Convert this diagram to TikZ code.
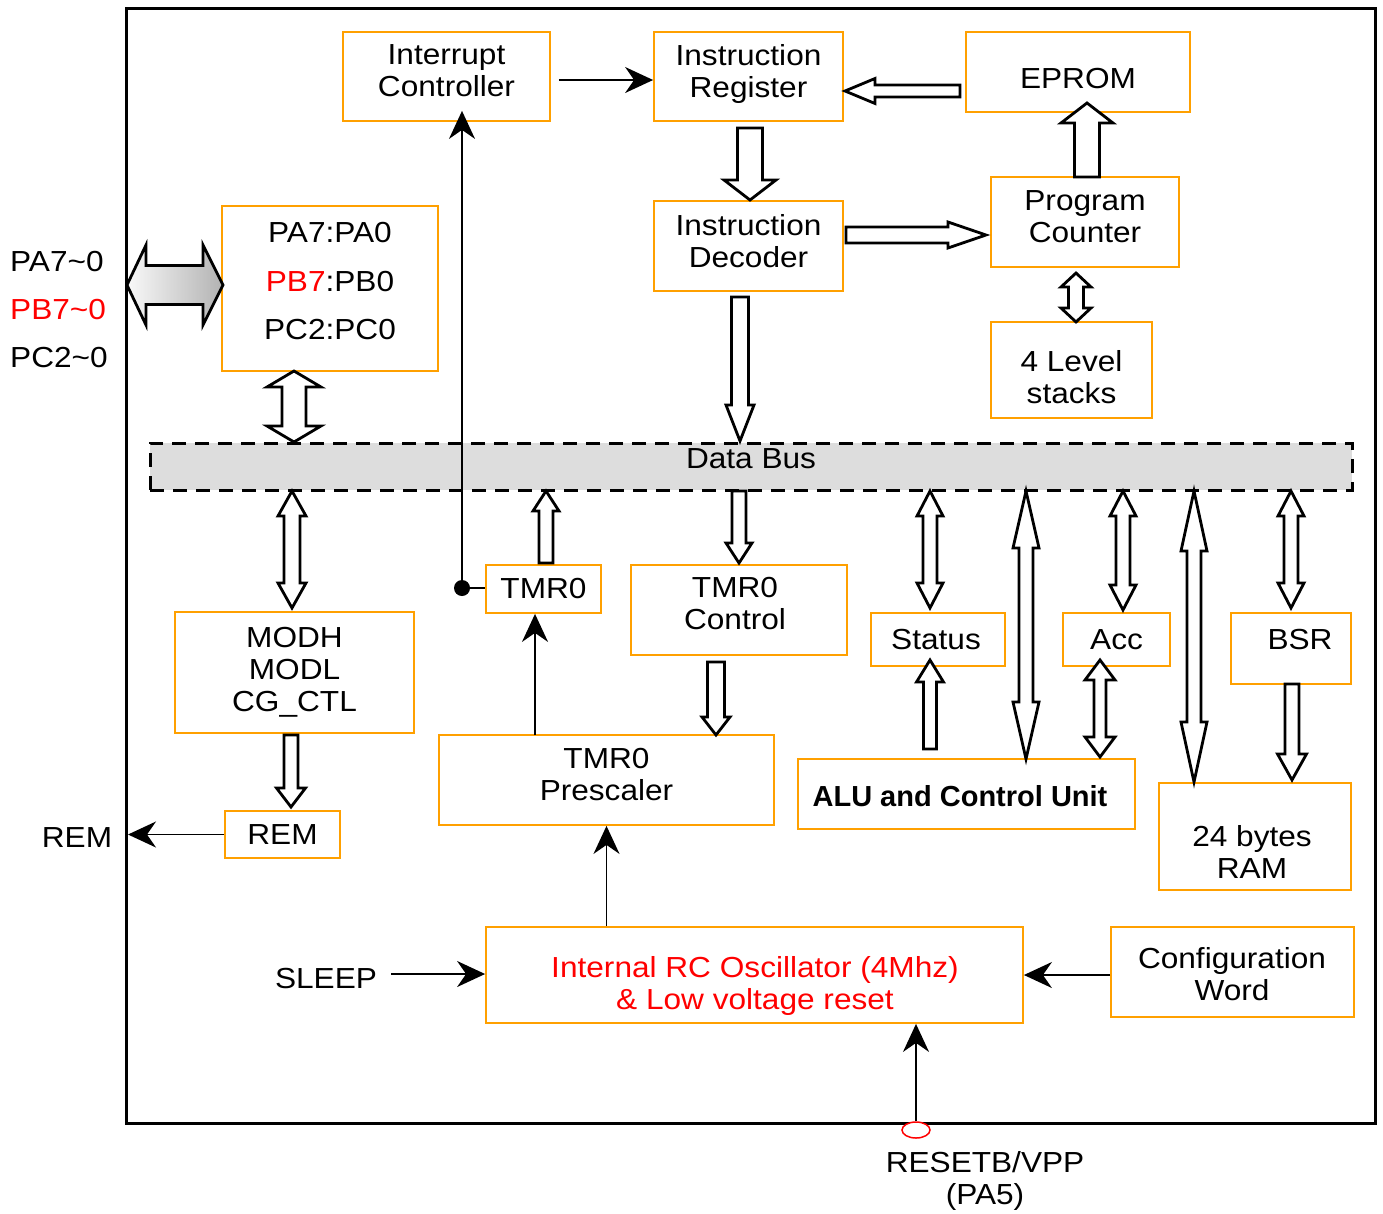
\documentclass[tikz,border=0pt]{standalone}
\usepackage{fontspec}
\setmainfont{Liberation Sans}[FakeStretch=1.09]
\newfontfamily\alufont{Liberation Sans}
\usetikzlibrary{arrows.meta,shapes.geometric,calc}
\definecolor{boxor}{RGB}{255,160,0}
\definecolor{busgray}{RGB}{221,221,221}
\newcommand\fs{\fontsize{29}{32}\selectfont}
\tikzset{
  box/.style={draw=boxor, line width=1.8pt, align=center, inner sep=0pt, font=\fs},
  up2/.style={text depth=11pt},
  txt/.style={align=center, inner sep=0pt, font=\fs},
  blk/.style={draw=black, line width=2.8pt, fill=white, line join=miter},
  thinarr/.style={line width=1.6pt, -{Stealth[length=28pt,width=26pt,inset=9pt]}},
  thinln/.style={line width=1.6pt},
}
% vertical block arrow: x, ytail, ytip, half shaft, half head, head length
\newcommand\vblk[6]{%
  \pgfmathsetmacro\bs{(#3>#2)?1:-1}%
  \pgfmathsetmacro\bb{#3-\bs*#6}%
  \draw[blk] ({#1-#4},#2) -- ({#1-#4},\bb) -- ({#1-#5},\bb) -- (#1,#3) -- ({#1+#5},\bb) -- ({#1+#4},\bb) -- ({#1+#4},#2) -- cycle;}
% horizontal block arrow: y, xtail, xtip, half shaft, half head, head length
\newcommand\hblk[6]{%
  \pgfmathsetmacro\bs{(#3>#2)?1:-1}%
  \pgfmathsetmacro\bb{#3-\bs*#6}%
  \draw[blk] (#2,{#1-#4}) -- (\bb,{#1-#4}) -- (\bb,{#1-#5}) -- (#3,#1) -- (\bb,{#1+#5}) -- (\bb,{#1+#4}) -- (#2,{#1+#4}) -- cycle;}
% vertical double block arrow: x, ytop, ybottom, half shaft, half head, head length
\newcommand\vdblk[6]{%
  \draw[blk] (#1,#2) -- ({#1+#5},{#2+#6}) -- ({#1+#4},{#2+#6}) -- ({#1+#4},{#3-#6}) -- ({#1+#5},{#3-#6}) -- (#1,#3)
    -- ({#1-#5},{#3-#6}) -- ({#1-#4},{#3-#6}) -- ({#1-#4},{#2+#6}) -- ({#1-#5},{#2+#6}) -- cycle;}
\begin{document}
\begin{tikzpicture}[x=1pt,y=-1pt]
\useasboundingbox (0,0) rectangle (1383,1213);
% outer frame
\draw[line width=3pt] (126,8) rectangle (1375,1123);
\coordinate (frameL) at (128,0);

% data bus
\node[draw=black, fill=busgray, line width=3pt, dash pattern=on 14pt off 9pt, minimum width=1202pt, minimum height=47pt, inner sep=0pt] (bus) at (751,466.5) {};
\node[txt] (bust) at (751,459) {Data Bus};

% boxes
\node[box, up2, minimum width=207pt, minimum height=89pt] (ic) at (446.5,76.5) {Interrupt\\Controller};
\node[box, up2, minimum width=189pt, minimum height=89pt] (ir) at (748.5,76.5) {Instruction\\Register};
\node[box, minimum width=224pt, minimum height=80pt] (ep) at (1078,72) {};
\node[txt] (ept) at (1078,79) {EPROM};
\node[box, up2, minimum width=189pt, minimum height=90pt] (id) at (748.5,246) {Instruction\\Decoder};
\node[box, up2, minimum width=188pt, minimum height=90pt] (pc) at (1085,222) {Program\\Counter};
\node[box, minimum width=161pt, minimum height=96pt] (st) at (1071.5,370) {};
\node[txt] (stt) at (1071.5,377) {4 Level\\stacks};
\node[box, minimum width=216pt, minimum height=165pt] (pa) at (330,288.5) {};
\node[txt] (pat) at (330,281.5) {PA7:PA0\\[16.5pt]\textcolor{red}{PB7}:PB0\\[16.5pt]PC2:PC0};
\node[box, minimum width=239pt, minimum height=121pt] (mod) at (294.5,672.5) {MODH\\MODL\\CG\_CTL};
\node[box, minimum width=115pt, minimum height=47pt] (rem) at (282.5,834.5) {REM};
\node[box, minimum width=115pt, minimum height=48pt] (tmr) at (543.5,589) {TMR0};
\node[box, up2, minimum width=216pt, minimum height=90pt] (tc) at (739,610) {};
\node[txt] (tct) at (735,604) {TMR0\\Control};
\node[box, up2, minimum width=335pt, minimum height=90pt] (tp) at (606.5,780) {TMR0\\Prescaler};
\node[box, minimum width=134pt, minimum height=53pt] (sta) at (938,639.5) {};
\node[txt] (stat) at (936,639.5) {Status};
\node[box, minimum width=107pt, minimum height=53pt] (acc) at (1116.5,639.5) {Acc};
\node[box, minimum width=120pt, minimum height=71pt] (bsr) at (1291,648.5) {};
\node[txt] (bsrt) at (1300,640) {BSR};
\node[box, minimum width=337pt, minimum height=70pt] (alu) at (966.5,794) {};
\node[txt, font={\alufont\fontsize{29}{32}\selectfont\bfseries}] (alut) at (960,796) {ALU and Control Unit};
\node[box, minimum width=192pt, minimum height=107pt] (ram) at (1255,836.5) {};
\node[txt] (ramt) at (1252,852) {24 bytes\\RAM};
\node[box, minimum width=537pt, minimum height=96pt] (osc) at (754.5,975) {};
\node[txt, text=red] (osct) at (755,986) {Internal RC Oscillator (4Mhz)\\\& Low voltage reset};
\node[box, minimum width=243pt, minimum height=90pt] (cfg) at (1232.5,972) {};
\node[txt] (cfgt) at (1232,974) {Configuration\\Word};

% external labels
\node[txt, anchor=west] (lpa) at (10,262) {PA7\textasciitilde0};
\node[txt, anchor=west, text=red] (lpb) at (10,310) {PB7\textasciitilde0};
\node[txt, anchor=west] (lpc) at (10,358) {PC2\textasciitilde0};
\node[txt] (lrem) at (77,838) {REM};
\node[txt] (lsl) at (326,978) {SLEEP};
\node[txt] (lrst) at (985,1181) {RESETB/VPP\\(PA5)};

% port double arrow (shaded)
\draw[blk, left color=gray!5, right color=gray!60] (127,285) -- (146,245) -- (146,265.5) -- (203,265.5) -- (203,245) -- (223,285) -- (203,325) -- (203,304.5) -- (146,304.5) -- (146,325) -- cycle;

% block arrows
\hblk{91}{960}{845}{6}{12.5}{30}
\hblk{235}{846}{986}{8}{13}{38}
\vblk{750}{128}{200}{12.5}{26}{20}
\vblk{1087}{177}{103}{12.5}{26}{20}
\vblk{740}{297}{441}{8.5}{14}{36}
\vblk{291}{735}{807}{7}{14.5}{19}
\vblk{546}{563}{491}{7}{13}{20}
\vblk{739}{491}{563}{7}{13}{20}
\vblk{716}{662}{735}{8.5}{14}{18}
\vblk{930}{749}{660}{6.5}{13.5}{22}
\vblk{1292}{684}{780}{7}{14.5}{26}
\vdblk{1076}{273}{322}{7.5}{15}{14}
\vdblk{294}{371}{442}{12}{27}{16}
\vdblk{292}{491}{608}{8}{14}{25}
\vdblk{930}{491}{608}{7}{13}{25}
\vdblk{1123}{491}{610}{7}{13}{25}
\vdblk{1100}{660}{757}{6}{15}{20}
\vdblk{1026}{491}{759}{7}{13}{57}
\vdblk{1194}{491}{782}{7}{13}{60}
\vdblk{1291}{491}{608}{7}{13}{25}

% thin connectors
\node[circle, fill=black, minimum size=16pt, inner sep=0pt] (dot) at (462,588) {};
\coordinate (ictip) at ($(dot |- ic.south)+(0,-11)$);
\draw[thinln] (dot.center) -- (dot.center -| tmr.west);
\draw[thinarr] (dot.center) -- (ictip);
\coordinate (icout) at ($(ic.east)+(8,3.5)$);
\draw[thinarr] (icout) -- (icout -| ir.west);
\draw[thinarr] (rem.west) -- (rem.west -| frameL);
\coordinate (tpx) at (535,735);
\draw[thinarr] (tpx) -- (tpx |- tmr.south);
\draw[thinarr] (tp.south |- osc.north) -- (tp.south);
\coordinate (slout) at ($(lsl.east)+(14,-4)$);
\draw[thinarr] (slout) -- (slout -| osc.west);
\coordinate (cfgin) at ($(cfg.west)+(0,3)$);
\draw[thinarr] (cfgin) -- (cfgin -| osc.east);
\node[draw=red, line width=1.5pt, ellipse, minimum width=28pt, minimum height=16pt, inner sep=0pt, fill=white] (rst) at (916,1130) {};
\draw[thinarr] (rst.north) -- (rst.north |- osc.south);
\end{tikzpicture}
\end{document}
